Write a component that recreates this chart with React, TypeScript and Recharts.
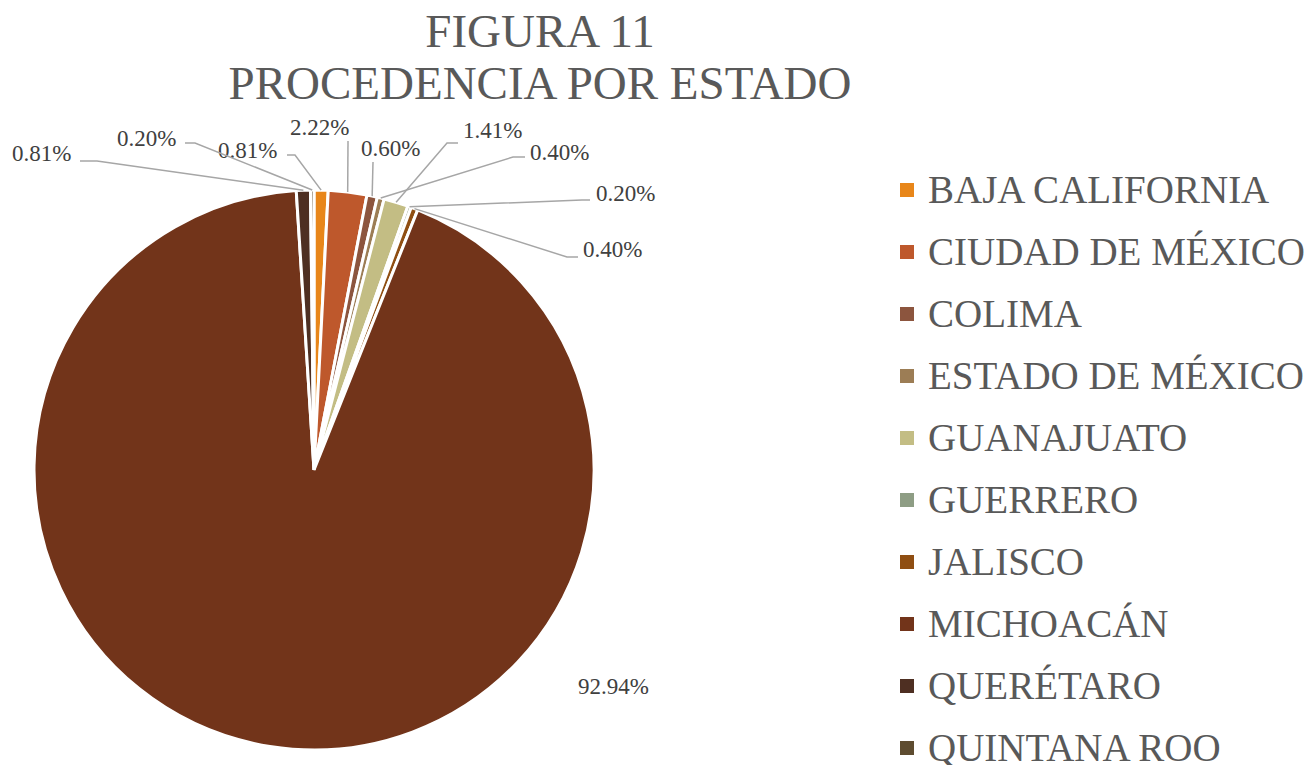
import { PieChart, Pie, Cell, Legend } from "recharts";

const STATES = [
  "BAJA CALIFORNIA",
  "CIUDAD DE MÉXICO",
  "COLIMA",
  "ESTADO DE MÉXICO",
  "GUANAJUATO",
  "GUERRERO",
  "JALISCO",
  "MICHOACÁN",
  "QUERÉTARO",
  "QUINTANA ROO",
];
const PERCENTS = [0.81, 2.22, 0.6, 0.4, 1.41, 0.2, 0.4, 92.94, 0.81, 0.2];
const COLORS = [
  "#E8861A",
  "#BE582C",
  "#8C553E",
  "#9C7D55",
  "#C3BD84",
  "#8E9D84",
  "#8F4E12",
  "#72341A",
  "#4E2F22",
  "#5E4C30",
];

// where Excel put each data label: text left/baseline, then leader points from the text side
const LABEL_POS: { x: number; y: number; lead: number[][] }[] = [
  { x: 218, y: 158, lead: [[287, 155], [295, 155]] },
  { x: 290, y: 135, lead: [[348, 141]] },
  { x: 361, y: 156, lead: [[373, 162]] },
  { x: 530, y: 160, lead: [[525, 157], [513, 157]] },
  { x: 463, y: 138, lead: [[458, 143], [447, 143]] },
  { x: 596, y: 201, lead: [[590, 200], [582, 200]] },
  { x: 583, y: 257, lead: [[578, 257], [567, 257]] },
  { x: 578, y: 694, lead: [] },
  { x: 12, y: 161, lead: [[80, 161], [97, 161]] },
  { x: 117, y: 146, lead: [[185, 143], [195, 143]] },
];

const data = STATES.map((name, i) => ({ name, value: PERCENTS[i] }));
const FONT = "'Liberation Serif', 'Times New Roman', serif";
const RAD = Math.PI / 180;

function renderLabel(props: any) {
  const { cx, cy, midAngle, outerRadius, index, value } = props;
  const pos = LABEL_POS[index];
  const ex = cx + outerRadius * Math.cos(-midAngle * RAD);
  const ey = cy + outerRadius * Math.sin(-midAngle * RAD);
  const pts = pos.lead.length ? [...pos.lead, [ex, ey]] : [];
  return (
    <g key={`lbl-${index}`}>
      {pts.length > 0 && (
        <polyline
          points={pts.map((p) => p.join(",")).join(" ")}
          fill="none"
          stroke="#A6A6A6"
          strokeWidth={1.5}
        />
      )}
      <text x={pos.x} y={pos.y} fill="#404040" fontSize={23} fontFamily={FONT} textAnchor="start">
        {value.toFixed(2)}%
      </text>
    </g>
  );
}

function LegendList() {
  return (
    <div style={{ fontFamily: FONT }}>
      {STATES.map((s, i) => (
        <div key={s} style={{ display: "flex", alignItems: "center", height: 62 }}>
          <span
            style={{ width: 14, height: 14, background: COLORS[i], marginRight: 14, display: "inline-block" }}
          />
          <span style={{ fontSize: 39, lineHeight: "62px", color: "#595959", whiteSpace: "nowrap" }}>{s}</span>
        </div>
      ))}
    </div>
  );
}

export default function App() {
  return (
    <div style={{ position: "absolute", left: 0, top: 0, width: 1307, height: 765, background: "#fff", overflow: "hidden" }}>
      <div
        style={{
          position: "absolute",
          left: 0,
          top: 5,
          width: 1080,
          textAlign: "center",
          fontFamily: FONT,
          fontSize: 47,
          lineHeight: "52px",
          color: "#595959",
        }}
      >
        <div>FIGURA 11</div>
        <div>PROCEDENCIA POR ESTADO</div>
      </div>
      <PieChart width={1307} height={765}>
        <Pie
          data={data}
          dataKey="value"
          nameKey="name"
          cx={309}
          cy={465}
          outerRadius={280}
          startAngle={90}
          endAngle={-270}
          stroke="#fff"
          strokeWidth={3}
          label={renderLabel}
          labelLine={false}
          isAnimationActive={false}
        >
          {data.map((_, i) => (
            <Cell key={i} fill={COLORS[i]} />
          ))}
        </Pie>
        <Legend
          content={() => <LegendList />}
          wrapperStyle={{ position: "absolute", left: 900, top: 159, width: 420 }}
        />
      </PieChart>
    </div>
  );
}
